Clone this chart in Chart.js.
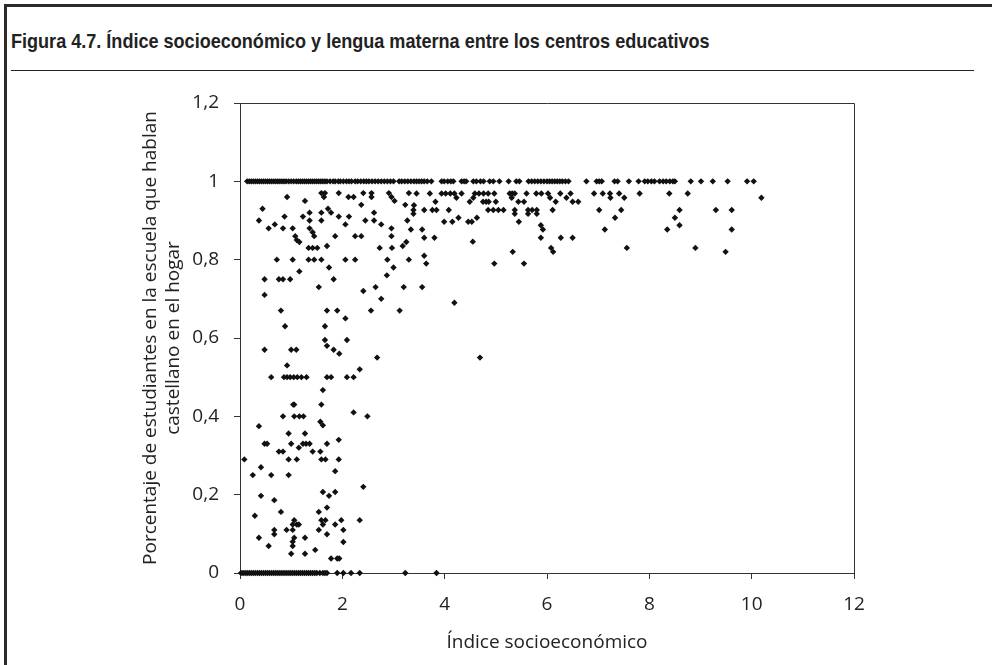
<!DOCTYPE html>
<html>
<head>
<meta charset="utf-8">
<script src="https://cdn.jsdelivr.net/npm/chart.js@4"></script>
<style>
  html, body { margin: 0; padding: 0; background: #fff; }
  body { width: 992px; height: 665px; position: relative; overflow: hidden; }
  #frameLeft { position: absolute; left: 4px; top: 4px; width: 3px; height: 661px; background: #2b2b2b; }
  #frameTop { position: absolute; left: 4px; top: 4px; width: 988px; height: 3px; background: #2b2b2b; }
  #title { position: absolute; left: 11px; top: 30px; font-family: 'Liberation Sans Narrow', 'Arial Narrow', 'Liberation Sans', sans-serif; font-weight: bold; font-size: 21px; line-height: 22px; color: #222; white-space: nowrap; transform-origin: 0 0; transform: scaleX(0.86); }
  #sep { position: absolute; left: 11px; top: 70px; width: 963px; height: 0; border-top: 1.5px solid #222; }
  canvas { position: absolute; left: 0; top: 0; }
</style>
</head>
<body>
<div id="frameLeft"></div>
<div id="frameTop"></div>
<div id="title">Figura 4.7. Índice socioeconómico y lengua materna entre los centros educativos</div>
<div id="sep"></div>
<canvas id="c" width="992" height="665"></canvas>
<script>
// ---- Data ----
const xTitle = 'Índice socioeconómico';
const yTitle = ['Porcentaje de estudiantes en la escuela que hablan', 'castellano en el hogar'];
const xTicks = [0, 2, 4, 6, 8, 10, 12];
const yTicks = [0, 0.2, 0.4, 0.6, 0.8, 1, 1.2];

// schools where 100% speak castellano (y = 1)
const rowOneY = 1;
const rowOneX = [0.14,0.18,0.22,0.26,0.30,0.34,0.38,0.42,0.46,0.50,0.54,0.58,0.62,0.66,0.70,0.74,0.78,0.82,0.86,0.90,0.95,1.00,1.05,1.10,1.14,1.18,1.22,1.26,1.30,1.34,1.38,1.42,1.46,1.50,1.54,1.58,1.62,1.66,1.70,1.76,1.82,1.86,1.92,1.96,2.02,2.08,2.13,2.18,2.25,2.30,2.36,2.42,2.47,2.52,2.58,2.64,2.70,2.76,2.82,2.88,2.94,3.00,3.11,3.16,3.22,3.28,3.34,3.40,3.45,3.50,3.55,3.60,3.66,3.74,3.94,3.99,4.06,4.12,4.17,4.33,4.38,4.42,4.56,4.62,4.70,4.76,4.88,4.95,5.07,5.25,5.40,5.46,5.64,5.70,5.76,5.82,5.88,5.94,6.00,6.05,6.10,6.15,6.20,6.25,6.30,6.36,6.42,6.77,6.97,7.02,7.07,7.32,7.38,7.60,7.79,7.91,7.97,8.04,8.10,8.20,8.27,8.33,8.40,8.46,8.50,8.81,9.01,9.24,9.53,9.91,10.04];

// schools where 0% speak castellano (y = 0)
const rowZeroY = 0;
const rowZeroX = [0.02,0.06,0.10,0.14,0.18,0.22,0.26,0.30,0.34,0.38,0.42,0.46,0.50,0.54,0.58,0.62,0.66,0.70,0.74,0.78,0.82,0.86,0.90,0.94,0.98,1.02,1.06,1.10,1.14,1.18,1.22,1.26,1.30,1.34,1.38,1.42,1.46,1.50,1.56,1.62,1.66,1.70,1.90,2.02,2.17,2.34,3.23,3.84];

// other schools: [índice, porcentaje]
const upperPoints = [
  [0.92,0.96],[1.59,0.97],[1.66,0.97],[1.64,0.96],[1.93,0.97],[2.12,0.96],[2.22,0.96],[2.41,0.97],[2.57,0.97],[2.57,0.96],
  [2.91,0.97],[2.96,0.96],[3.02,0.95],[3.30,0.97],[1.27,0.95],[2.37,0.94],[3.23,0.94],[0.44,0.93],[1.72,0.93],[1.78,0.92],
  [1.36,0.92],[1.59,0.92],[2.62,0.92],[0.37,0.90],[0.68,0.89],[0.56,0.88],[0.87,0.91],[0.84,0.88],[1.23,0.91],[1.36,0.90],
  [1.59,0.90],[1.93,0.91],[2.06,0.89],[2.13,0.91],[2.45,0.90],[2.62,0.90],[2.76,0.89],[2.96,0.88],[3.27,0.90],[1.03,0.88],
  [1.36,0.88],[1.42,0.87],[1.45,0.86],[1.08,0.86],[1.11,0.85],[1.16,0.845],[1.34,0.83],[1.42,0.83],[1.51,0.83],[1.70,0.835],
  [1.86,0.86],[2.25,0.86],[2.37,0.86],[2.96,0.86],[2.73,0.83],[2.88,0.80],[2.97,0.83],[3.18,0.835],[3.25,0.845],[0.72,0.80],
  [1.03,0.80],[1.34,0.80],[1.45,0.80],[1.59,0.80],[2.06,0.80],[2.25,0.80],[3.30,0.80],[1.74,0.78],[1.16,0.77],[3.00,0.78],
  [0.48,0.75],[0.76,0.75],[0.84,0.75],[0.98,0.75],[1.83,0.75],[2.87,0.76],[1.54,0.73],[2.65,0.73],[3.20,0.73],[2.41,0.72],
  [0.48,0.71],[2.76,0.70],[0.80,0.67],[1.70,0.67],[1.90,0.67],[2.56,0.67],[3.12,0.67],[2.06,0.65],[0.88,0.63],[1.66,0.63],
  [2.09,0.595],[1.66,0.595],[1.70,0.58],[1.83,0.57],[1.94,0.56],[0.48,0.57],[1.00,0.57],[1.10,0.57],[2.68,0.55],[0.92,0.53],
  [2.34,0.52],[0.61,0.50],[0.86,0.50],[0.92,0.50],[0.98,0.50],[1.05,0.50],[1.12,0.50],[1.20,0.50],[1.30,0.50],[1.70,0.50],
  [1.78,0.50],[2.09,0.50],[2.22,0.50]
];
const lowerPoints = [
  [1.62,0.467],[1.04,0.43],[1.06,0.43],[1.59,0.43],[2.22,0.41],[2.49,0.40],[0.84,0.40],[1.06,0.40],[1.16,0.40],[1.24,0.40],
  [1.57,0.386],[1.62,0.377],[0.37,0.375],[0.95,0.356],[1.27,0.356],[0.48,0.33],[0.53,0.33],[1.00,0.33],[1.23,0.33],[1.29,0.33],
  [1.36,0.33],[1.70,0.33],[1.93,0.34],[1.15,0.32],[0.76,0.31],[0.84,0.31],[1.42,0.31],[1.57,0.31],[0.085,0.29],[0.41,0.27],
  [0.95,0.29],[1.11,0.29],[1.59,0.29],[1.67,0.29],[1.86,0.26],[1.93,0.29],[0.25,0.25],[0.61,0.25],[0.95,0.25],[2.41,0.22],
  [0.41,0.197],[0.67,0.186],[1.62,0.207],[1.74,0.197],[1.86,0.207],[1.70,0.167],[1.54,0.156],[0.29,0.146],[0.80,0.156],[1.06,0.135],
  [1.11,0.124],[1.03,0.124],[1.15,0.124],[1.59,0.135],[1.67,0.135],[1.62,0.124],[1.86,0.124],[1.98,0.135],[2.34,0.135],[0.67,0.11],
  [0.67,0.099],[0.91,0.11],[1.03,0.11],[1.54,0.11],[2.02,0.11],[1.70,0.099],[1.06,0.09],[1.03,0.08],[1.03,0.069],[1.27,0.09],
  [0.37,0.09],[0.56,0.069],[2.02,0.079],[1.47,0.059],[1.00,0.049],[1.27,0.049],[1.78,0.037],[1.90,0.037],[1.94,0.037]
];
const richPoints = [
  [3.45,0.969],[3.71,0.969],[3.94,0.969],[4.02,0.969],[4.11,0.969],[4.19,0.969],[4.33,0.969],[4.59,0.969],[4.67,0.969],[4.76,0.969],
  [4.85,0.969],[4.97,0.969],[5.27,0.969],[5.32,0.969],[5.37,0.969],[5.60,0.969],[5.79,0.969],[5.89,0.969],[6.02,0.969],[6.26,0.969],
  [6.46,0.969],[6.92,0.969],[7.09,0.969],[7.23,0.969],[7.41,0.969],[7.81,0.969],
  [4.23,0.958],[4.56,0.958],[5.31,0.958],[6.06,0.958],[6.38,0.958],[7.24,0.958],[7.51,0.958],
  [3.82,0.948],[4.49,0.948],[4.75,0.948],[4.81,0.948],[4.86,0.948],[5.00,0.948],[5.44,0.948],[5.55,0.948],[6.17,0.948],[6.50,0.948],[6.61,0.948],
  [3.40,0.939],
  [3.39,0.927],[3.60,0.927],[3.76,0.927],[3.84,0.927],[4.08,0.927],[4.85,0.927],[4.95,0.927],[5.05,0.927],[5.15,0.927],[5.37,0.927],
  [5.63,0.927],[5.71,0.927],[5.80,0.927],[6.11,0.927],[7.02,0.927],[7.45,0.927],
  [3.39,0.917],[5.37,0.917],[5.63,0.917],[5.80,0.917],
  [4.27,0.907],[4.63,0.907],[7.33,0.907],
  [3.99,0.897],[4.15,0.897],[4.46,0.897],[4.53,0.897],[5.45,0.897],
  [5.88,0.888],[3.34,0.877],[3.56,0.877],[5.92,0.877],[7.13,0.877],
  [3.60,0.856],[3.80,0.856],[5.88,0.856],[6.27,0.856],[6.50,0.856],
  [4.55,0.846],[7.56,0.83],[6.08,0.83],[6.12,0.82],[5.33,0.82],[3.60,0.81],[3.64,0.79],[4.97,0.79],[5.55,0.79],
  [3.56,0.73],[4.19,0.69],[4.69,0.55],
  [8.39,0.969],[8.75,0.969],[10.19,0.958],[8.59,0.927],[9.30,0.927],[9.61,0.927],[8.50,0.907],[8.59,0.888],[8.35,0.877],[9.61,0.877],
  [8.90,0.83],[9.49,0.82]
];

// ---- Build the dataset ----
const points = []
  .concat(rowOneX.map(x => ({ x: x, y: rowOneY })))
  .concat(rowZeroX.map(x => ({ x: x, y: rowZeroY })))
  .concat(upperPoints.map(p => ({ x: p[0], y: p[1] })))
  .concat(lowerPoints.map(p => ({ x: p[0], y: p[1] })))
  .concat(richPoints.map(p => ({ x: p[0], y: p[1] })));

const tickFont = { family: 'Open Sans', size: 19 };
const axisColor = '#333';
const textColor = '#222';

const boxPlugin = {
  id: 'boxPlugin',
  afterDatasetsDraw(chart) {
    const a = chart.chartArea, c = chart.ctx;
    c.save();
    c.strokeStyle = axisColor;
    c.lineWidth = 1;
    c.beginPath();
    c.moveTo(Math.round(a.left) + 0.5, Math.round(a.top) + 0.5);
    c.lineTo(Math.round(a.right) + 0.5, Math.round(a.top) + 0.5);
    c.lineTo(Math.round(a.right) + 0.5, Math.round(a.bottom) + 0.5);
    c.stroke();
    c.restore();
  }
};

new Chart(document.getElementById('c'), {
  type: 'scatter',
  data: {
    datasets: [{
      data: points,
      pointStyle: 'rectRot',
      pointRadius: 3.2,
      pointHoverRadius: 3.2,
      backgroundColor: '#111',
      borderColor: '#111',
      borderWidth: 0,
      clip: false
    }]
  },
  options: {
    responsive: false,
    animation: false,
    events: [],
    layout: { padding: { left: 0, top: 103, right: 138, bottom: 0 } },
    plugins: { legend: { display: false }, tooltip: { enabled: false } },
    scales: {
      x: {
        type: 'linear',
        min: xTicks[0],
        max: xTicks[xTicks.length - 1],
        afterBuildTicks: s => { s.ticks = xTicks.map(v => ({ value: v })); },
        ticks: { color: textColor, font: tickFont, padding: 14, maxRotation: 0, callback: v => String(v) },
        grid: { drawOnChartArea: false, drawTicks: true, tickLength: 6, color: axisColor },
        border: { color: axisColor, width: 1 },
        title: { display: true, text: xTitle, color: textColor, font: tickFont, padding: { top: 0, bottom: 11 } },
        afterFit: s => { s.height = 92; }
      },
      y: {
        type: 'linear',
        min: yTicks[0],
        max: yTicks[yTicks.length - 1],
        afterBuildTicks: s => { s.ticks = yTicks.map(v => ({ value: v })); },
        ticks: { color: textColor, font: tickFont, padding: 15, callback: v => String(Number(v.toFixed(1))).replace('.', ',') },
        grid: { drawOnChartArea: false, drawTicks: true, tickLength: 6, color: axisColor },
        border: { color: axisColor, width: 1 },
        title: { display: true, text: yTitle, color: textColor, font: tickFont, padding: { top: 139, bottom: 0 } },
        afterFit: s => { s.width = 240; }
      }
    }
  },
  plugins: [boxPlugin]
});
</script>
</body>
</html>
